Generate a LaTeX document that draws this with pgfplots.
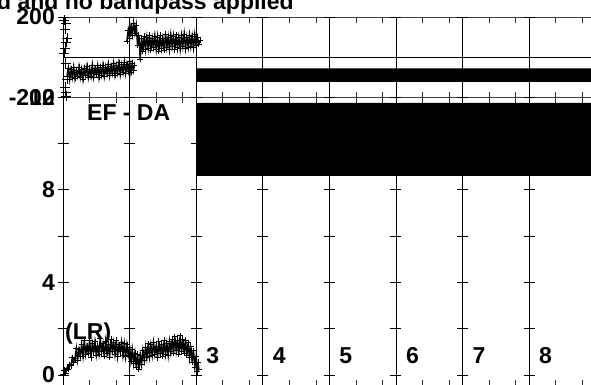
\documentclass[border=0pt]{standalone}
\usepackage{pgfplots}
\pgfplotsset{compat=1.18}
\usepackage{fontspec}
\setmainfont{Liberation Sans}
\newcommand{\bigf}{\fontsize{23}{27}\selectfont\bfseries}
\pgfplotsset{
  panel/.style={
    scale only axis, width=532.6pt, xmin=1, xmax=9, axis on top,
    anchor=south west,
    xtick={2,4,5,7}, xticklabels={}, xmajorgrids,
    major grid style={black, line width=0.7pt},
    extra x ticks={1,3,6,8,9}, extra x tick labels={},
    extra x tick style={grid=major, grid style={black!50, line width=0.7pt}},
    minor xtick={1.4,1.8,2.4,2.8,3.4,3.8,4.4,4.8,5.4,5.8,6.4,6.8,7.4,7.8,8.4,8.8},
    tick align=inside, xtick pos=both, ytick pos=left,
    major tick length=0pt, minor tick length=6pt,
    minor tick style={black!80, line width=0.7pt},
    axis line style={black!75, line width=0.7pt},
    yticklabel style={font=\bigf, inner sep=0pt, xshift=-8pt},
    /pgf/number format/assume math mode=true,
  },
  cross/.style={only marks, mark=-, mark size=5.5pt, mark options={black, line width=0.7pt}},
  data/.style={black, line width=1.5pt, mark=+, mark size=3pt, mark options={line width=0.8pt}},
}
\begin{document}
\begin{tikzpicture}
\path[use as bounding box, clip] (0,0) rectangle (591pt,384pt);
\node[anchor=base west, inner sep=0pt, font=\bigf] at (-3pt,374pt) {d and no bandpass applied};

% ---------------- top panel ----------------
\begin{axis}[panel, at={(63pt,286.5pt)}, height=80.5pt,
  ymin=-200, ymax=200, ytick={-200,200}, yticklabels={{-200},{200}},
  extra y ticks={0}, extra y tick labels={},
  extra y tick style={grid=major, grid style={black!80, line width=0.7pt}}]
\addplot[cross] coordinates {(1,200)(2,200)(3,200)(4,200)(5,200)(6,200)(7,200)(8,200)
  (1,-200)(2,-200)(3,-200)(4,-200)(5,-200)(6,-200)(7,-200)(8,-200)};
% steady band after x=3
\addplot[fill=black, draw=none] coordinates {(3.0,-55)(9.5,-55)(9.5,-122)(3.0,-122)(3.0,-55)};
% start-up spikes
\addplot[only marks, mark=+, mark size=5pt, mark options={black, line width=0.8pt}] coordinates {
(1.02,185)(1.04,170)(1.03,140)(1.06,95)(1.05,75)(1.03,45)(1.02,20)(1.04,-30)
(1.06,-110)(1.03,-150)(1.04,-175)(1.05,-195)};
% segment 1
\addplot[data] coordinates {
(1.06,-95)(1.08,-55)(1.10,-110)(1.12,-60)(1.14,-100)(1.16,-50)(1.18,-105)(1.20,-65)
(1.22,-95)(1.24,-48)(1.26,-100)(1.28,-60)(1.30,-110)(1.32,-55)(1.34,-90)(1.36,-45)
(1.38,-100)(1.40,-58)(1.42,-95)(1.44,-40)(1.46,-98)(1.48,-55)(1.50,-85)(1.52,-42)
(1.54,-100)(1.56,-50)(1.58,-88)(1.60,-40)(1.62,-95)(1.64,-48)(1.66,-82)(1.68,-35)
(1.70,-90)(1.72,-45)(1.74,-80)(1.76,-30)(1.78,-88)(1.80,-42)(1.82,-78)(1.84,-28)
(1.86,-85)(1.88,-38)(1.90,-75)(1.92,-25)(1.94,-80)(1.96,-35)(1.98,-70)(2.00,-20)
(2.02,-75)(2.04,-30)(2.06,-65)(2.07,-40)};
% segment 2
\addplot[data] coordinates {
(1.96,80)(1.98,135)(2.00,95)(2.02,150)(2.04,110)(2.06,170)(2.08,120)(2.10,160)
(2.12,60)(2.14,110)(2.16,-10)(2.18,95)(2.20,30)(2.22,105)(2.24,40)(2.26,100)
(2.28,45)(2.30,110)(2.32,35)(2.34,95)(2.36,50)(2.38,105)(2.40,40)(2.42,100)
(2.44,30)(2.46,110)(2.48,45)(2.50,95)(2.52,35)(2.54,115)(2.56,50)(2.58,100)
(2.60,40)(2.62,110)(2.64,55)(2.66,105)(2.68,38)(2.70,112)(2.72,48)(2.74,100)
(2.76,42)(2.78,108)(2.80,55)(2.82,115)(2.84,45)(2.86,100)(2.88,50)(2.90,110)
(2.92,55)(2.94,105)(2.96,48)(2.98,112)(3.00,60)(3.02,100)(3.04,65)(3.06,85)};
\end{axis}

% ---------------- bottom panel ----------------
\begin{axis}[panel, at={(63pt,-1.9pt)}, height=288.9pt,
  ymin=-0.47, ymax=12, ytick={0,2,4,6,8,10,12}, yticklabels={0,,4,,8,,12}]
\addplot[cross] coordinates {
(1,0)(2,0)(3,0)(4,0)(5,0)(6,0)(7,0)(8,0)
(1,2)(2,2)(3,2)(4,2)(5,2)(6,2)(7,2)(8,2)
(1,4)(2,4)(3,4)(4,4)(5,4)(6,4)(7,4)(8,4)
(1,6)(2,6)(3,6)(4,6)(5,6)(6,6)(7,6)(8,6)
(1,8)(2,8)(3,8)(4,8)(5,8)(6,8)(7,8)(8,8)
(1,10)(2,10)(3,10)(4,10)(5,10)(6,10)(7,10)(8,10)
(1,12)(2,12)(3,12)(4,12)(5,12)(6,12)(7,12)(8,12)};
\addplot[fill=black, draw=none] coordinates {(3.0,8.6)(9.5,8.6)(9.5,11.75)(3.0,11.75)(3.0,8.6)};
\addplot[data] coordinates {
(1.00,0.02)(1.02,0.20)(1.04,0.08)(1.06,0.30)(1.08,0.25)(1.10,0.45)(1.12,0.40)(1.14,0.75)
(1.16,0.55)(1.18,0.70)(1.20,1.15)(1.22,0.65)(1.24,1.10)(1.26,0.80)(1.28,1.30)(1.30,0.82)
(1.32,1.50)(1.34,0.90)(1.36,1.25)(1.38,0.95)(1.40,1.48)(1.42,0.75)(1.44,1.35)(1.46,1.00)
(1.48,1.43)(1.50,0.85)(1.52,1.25)(1.54,0.90)(1.56,1.57)(1.58,1.00)(1.60,1.35)(1.62,0.80)
(1.64,1.45)(1.66,0.95)(1.68,1.30)(1.70,0.78)(1.72,1.55)(1.74,1.02)(1.76,1.40)(1.78,0.90)
(1.80,1.50)(1.82,0.82)(1.84,1.30)(1.86,1.00)(1.88,1.42)(1.90,0.85)(1.92,1.35)(1.94,0.80)
(1.96,1.30)(1.98,0.85)(2.00,1.20)(2.02,0.60)(2.04,1.10)(2.06,0.50)(2.08,0.95)(2.10,0.35)
(2.12,0.90)(2.14,0.25)(2.16,0.85)(2.18,0.45)(2.20,1.05)(2.22,0.65)(2.24,1.20)(2.26,0.75)
(2.28,1.35)(2.30,0.80)(2.32,1.30)(2.34,0.85)(2.36,1.40)(2.38,0.90)(2.40,1.25)(2.42,0.75)
(2.44,1.45)(2.46,0.95)(2.48,1.30)(2.50,0.80)(2.52,1.50)(2.54,0.90)(2.56,1.35)(2.58,0.85)
(2.60,1.45)(2.62,1.00)(2.64,1.55)(2.66,0.95)(2.68,1.65)(2.70,1.05)(2.72,1.50)(2.74,0.90)
(2.76,1.70)(2.78,1.00)(2.80,1.55)(2.82,0.95)(2.84,1.50)(2.86,0.85)(2.88,1.40)(2.90,0.75)
(2.92,1.25)(2.94,0.55)(2.96,1.05)(2.98,0.35)(3.00,0.80)(3.02,0.15)(3.03,0.55)(3.04,0.25)};
\node[anchor=west, inner sep=0pt, font=\bigf] at (axis cs:1.36,11.31) {EF - DA};
\node[anchor=west, inner sep=0pt, font=\bigf] at (axis cs:1.03,1.77) {(LR)};
\node[anchor=west, inner sep=0pt, font=\bigf] at (axis cs:3.15,0.84) {3};
\node[anchor=west, inner sep=0pt, font=\bigf] at (axis cs:4.15,0.84) {4};
\node[anchor=west, inner sep=0pt, font=\bigf] at (axis cs:5.15,0.84) {5};
\node[anchor=west, inner sep=0pt, font=\bigf] at (axis cs:6.15,0.84) {6};
\node[anchor=west, inner sep=0pt, font=\bigf] at (axis cs:7.15,0.84) {7};
\node[anchor=west, inner sep=0pt, font=\bigf] at (axis cs:8.15,0.84) {8};
\end{axis}
\end{tikzpicture}
\end{document}
